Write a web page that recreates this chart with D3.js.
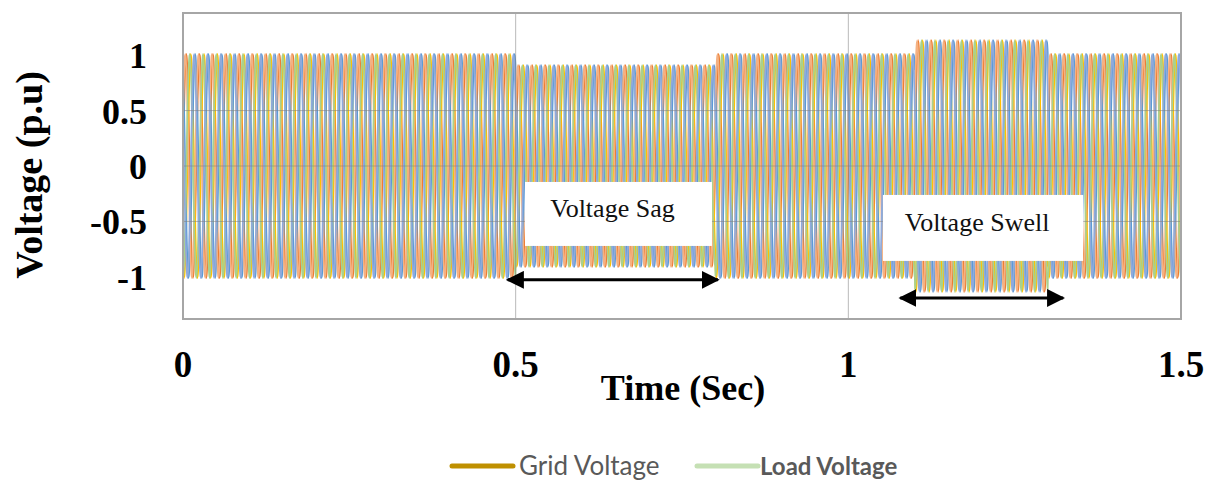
<!DOCTYPE html>
<html>
<head>
<meta charset="utf-8">
<script src="https://cdn.jsdelivr.net/npm/d3@7"></script>
<style>
  html, body { margin: 0; padding: 0; background: #fff; }
  svg { display: block; }
</style>
</head>
<body>
<svg id="chart" width="1216" height="484"></svg>
<script>
// Event schedule of the test: segment boundaries (s) and per-unit amplitude per segment
const eventTimes = [0, 0.5, 0.8, 1.1, 1.3, 1.5];
const gridAmplitude = [1, 0.9, 1, 1.12, 1];
const loadAmplitude = [1, 0.9, 1, 1.12, 1];

// Three-phase system
const frequencyHz = 50;
const phaseAnglesDeg = [0, -120, 120];
const loadPhaseShiftDeg = 30;
const gridPhaseColors = ["#ED7D31", "#FFC000", "#5B9BD5"];
const loadPhaseColors = ["#F4B183", "#A9D18E", "#8FAADC"];

// Axis ticks and labels
const xTickValues = [0, 0.5, 1, 1.5];
const xTickLabels = ["0", "0.5", "1", "1.5"];
const yTickValues = [1, 0.5, 0, -0.5, -1];
const yTickLabels = ["1", "0.5", "0", "-0.5", "-1"];

// Legend
const legendNames = ["Grid Voltage", "Load Voltage"];
const legendColors = ["#BF9000", "#C5E0B4"];

// Annotations (data units)
const annotations = [
  { label: "Voltage Sag",   box: [0.514, 0.795, -0.144, -0.721], arrow: [0.488, 0.804, -1.027] },
  { label: "Voltage Swell", box: [1.052, 1.353, -0.261, -0.856], arrow: [1.078, 1.323, -1.19] }
];

const svg = d3.select("#chart");
const plot = { left: 183, right: 1181, top: 13, bottom: 319 };

const x = d3.scaleLinear().domain([0, 1.5]).range([plot.left, plot.right]);
const y = d3.scaleLinear().domain([-1.38, 1.38]).range([plot.bottom, plot.top]);

// Envelope lookup for a given time
function amplitudeAt(t, amps) {
  const i = Math.min(d3.bisectRight(eventTimes, t) - 1, amps.length - 1);
  return amps[Math.max(i, 0)];
}

const samplesPerSecond = 3000;
const times = d3.range(0, 1.5 + 1e-9, 1 / samplesPerSecond);

function phaseSeries(amps, phaseDeg) {
  const ph = phaseDeg * Math.PI / 180;
  return times.map(t => ({ t, v: amplitudeAt(t, amps) * Math.sin(2 * Math.PI * frequencyHz * t + ph) }));
}

const series = [];
phaseAnglesDeg.forEach((p, i) => series.push({ color: gridPhaseColors[i], data: phaseSeries(gridAmplitude, p) }));
phaseAnglesDeg.forEach((p, i) => series.push({ color: loadPhaseColors[i], data: phaseSeries(loadAmplitude, p + loadPhaseShiftDeg) }));

// Plot frame
svg.append("rect")
  .attr("x", plot.left).attr("y", plot.top)
  .attr("width", plot.right - plot.left).attr("height", plot.bottom - plot.top)
  .attr("fill", "#fff");

svg.append("defs").append("clipPath").attr("id", "clip")
  .append("rect")
  .attr("x", plot.left).attr("y", plot.top)
  .attr("width", plot.right - plot.left).attr("height", plot.bottom - plot.top);

// Waveforms
const line = d3.line().x(d => x(d.t)).y(d => y(d.v));
svg.append("g").attr("clip-path", "url(#clip)")
  .selectAll("path").data(series).join("path")
  .attr("d", d => line(d.data))
  .attr("fill", "none")
  .attr("stroke", d => d.color)
  .attr("stroke-width", 1.7);

// Gridlines
const grid = svg.append("g").attr("stroke", "#7f7f7f").attr("stroke-opacity", 0.55).attr("stroke-width", 1);
grid.selectAll("line.h").data([0.5, 0, -0.5]).join("line")
  .attr("x1", plot.left).attr("x2", plot.right)
  .attr("y1", d => y(d)).attr("y2", d => y(d));
grid.selectAll("line.v").data([0.5, 1]).join("line")
  .attr("y1", plot.top).attr("y2", plot.bottom)
  .attr("x1", d => x(d)).attr("x2", d => x(d));

svg.append("rect")
  .attr("x", plot.left).attr("y", plot.top)
  .attr("width", plot.right - plot.left).attr("height", plot.bottom - plot.top)
  .attr("fill", "none").attr("stroke", "#a6a6a6").attr("stroke-width", 2);

// Tick labels
const serif = "'Liberation Serif', 'Times New Roman', serif";
svg.append("g").selectAll("text").data(yTickValues).join("text")
  .attr("x", 147).attr("y", d => y(d) + 13)
  .attr("text-anchor", "end")
  .attr("font-family", serif).attr("font-weight", "bold").attr("font-size", 36)
  .attr("fill", "#000")
  .text((d, i) => yTickLabels[i]);

svg.append("g").selectAll("text").data(xTickValues).join("text")
  .attr("x", d => x(d)).attr("y", 377)
  .attr("text-anchor", "middle")
  .attr("font-family", serif).attr("font-weight", "bold").attr("font-size", 37)
  .attr("fill", "#000")
  .text((d, i) => xTickLabels[i]);

// Axis titles
svg.append("text")
  .attr("x", 683).attr("y", 400)
  .attr("text-anchor", "middle")
  .attr("font-family", serif).attr("font-weight", "bold").attr("font-size", 36)
  .text("Time (Sec)");

svg.append("text")
  .attr("transform", "translate(42,175) rotate(-90)")
  .attr("text-anchor", "middle")
  .attr("font-family", serif).attr("font-weight", "bold").attr("font-size", 38)
  .text("Voltage (p.u)");

// Annotations
const defs = svg.select("defs");
defs.append("marker").attr("id", "arrowHead")
  .attr("viewBox", "0 0 10 10").attr("refX", 9).attr("refY", 5)
  .attr("markerWidth", 6).attr("markerHeight", 6)
  .attr("markerUnits", "strokeWidth")
  .attr("orient", "auto-start-reverse")
  .append("path").attr("d", "M0,0 L10,5 L0,10 z").attr("fill", "#000");

const ann = svg.append("g").selectAll("g").data(annotations).join("g");
ann.append("rect")
  .attr("x", d => x(d.box[0])).attr("y", d => y(d.box[2]))
  .attr("width", d => x(d.box[1]) - x(d.box[0]))
  .attr("height", d => y(d.box[3]) - y(d.box[2]))
  .attr("fill", "#fff");
ann.append("text")
  .attr("x", d => (x(d.box[0]) + x(d.box[1])) / 2 - 6)
  .attr("y", d => (y(d.box[2]) + y(d.box[3])) / 2 + 3)
  .attr("text-anchor", "middle")
  .attr("font-family", serif).attr("font-size", 26)
  .attr("fill", "#111")
  .text(d => d.label);
ann.append("line")
  .attr("x1", d => x(d.arrow[0]) ).attr("x2", d => x(d.arrow[1]))
  .attr("y1", d => y(d.arrow[2])).attr("y2", d => y(d.arrow[2]))
  .attr("stroke", "#000").attr("stroke-width", 3)
  .attr("marker-start", "url(#arrowHead)")
  .attr("marker-end", "url(#arrowHead)");

// Legend
const legendX = [452, 697];
const legendFont = [26, 24];
const lg = svg.append("g").selectAll("g").data(legendNames).join("g")
  .attr("transform", (d, i) => `translate(${legendX[i]},466)`);
lg.append("line")
  .attr("x1", 0).attr("x2", 61).attr("y1", 0).attr("y2", 0)
  .attr("stroke", (d, i) => legendColors[i]).attr("stroke-width", 5)
  .attr("stroke-linecap", "round");
lg.append("text")
  .attr("x", (d, i) => i === 1 ? 63 : 67).attr("y", 9)
  .attr("font-family", "Lato, 'Open Sans', sans-serif")
  .attr("font-size", (d, i) => legendFont[i])
  .attr("font-weight", (d, i) => i === 1 ? "bold" : "normal")
  .attr("fill", "#595959")
  .text(d => d);
</script>
</body>
</html>
